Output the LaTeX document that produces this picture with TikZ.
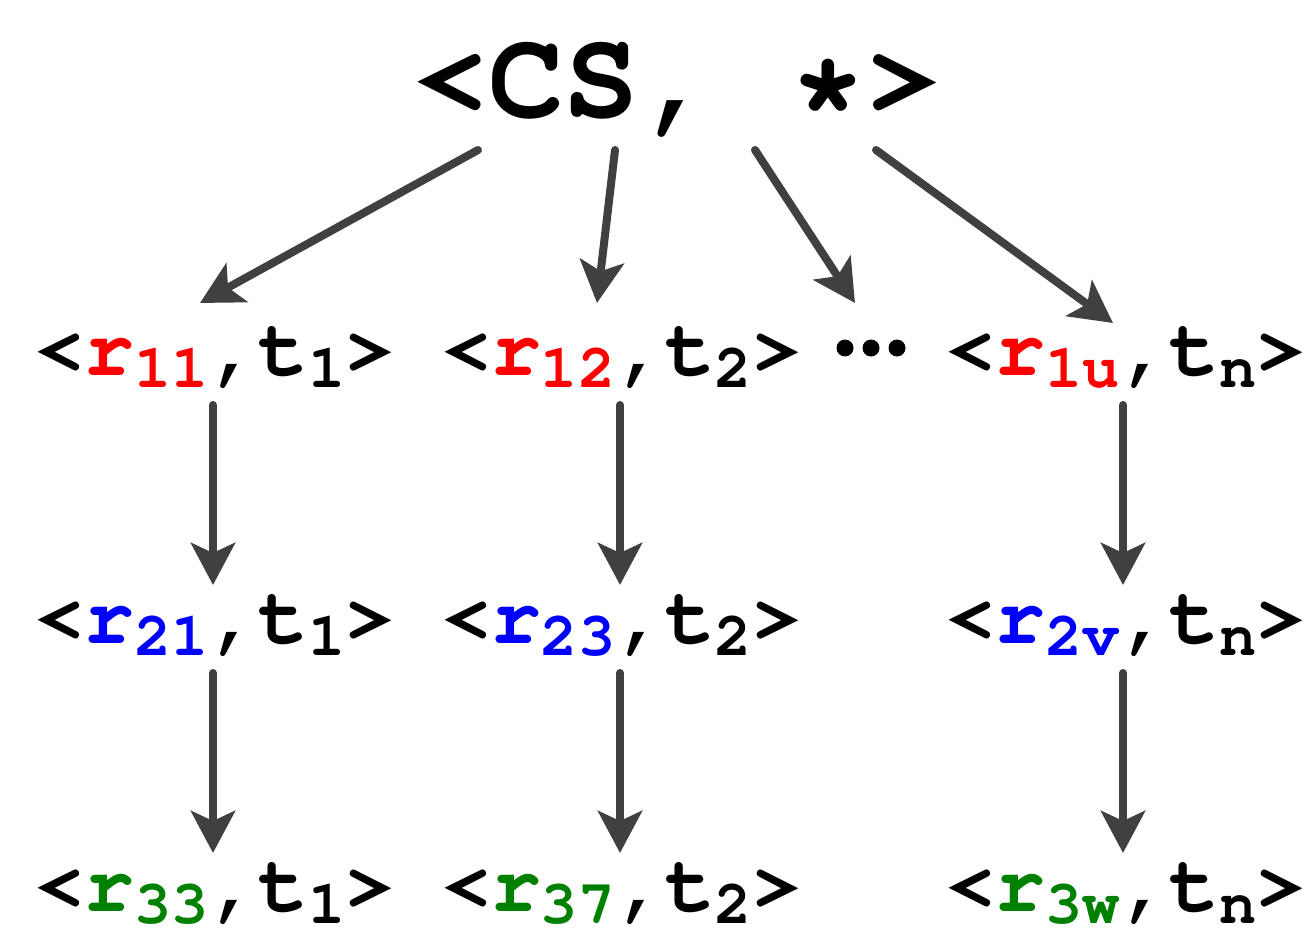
\documentclass[tikz,border=0pt]{standalone}
\usepackage[T1]{fontenc}
\usetikzlibrary{arrows.meta,calc}

\definecolor{arrowgray}{HTML}{404040}
\definecolor{rred}{HTML}{FF0000}
\definecolor{rblue}{HTML}{0000FF}
\definecolor{rgreen}{HTML}{008000}

% Courier typefaces at the sizes used in the tree
\newcommand\topfont{\fontfamily{pcr}\fontseries{b}\fontsize{126}{126}\selectfont}
\newcommand\rowfont{\fontfamily{pcr}\fontseries{b}\fontsize{83}{83}\selectfont}
\newcommand\subb[1]{\raisebox{-12pt}{\fontfamily{pcr}\fontseries{b}\fontsize{62}{62}\selectfont #1}}
% one tuple <r_x, t_y>
\newcommand\tuple[3]{{\rowfont <\textcolor{#1}{r\subb{#2}},t\subb{#3}>}}

\begin{document}
\begin{tikzpicture}[x=1pt,y=-1pt,
  label/.style={inner sep=0pt, outer sep=0pt, anchor=base},
  arr/.style={draw=arrowgray, line width=8pt, line cap=round,
    -{Stealth[length=42pt, width=44pt, inset=10pt]}}]
  \useasboundingbox (0,0) rectangle (1315,944);

  % root
  \node[label] (cs) at (677,118) {\topfont <CS, *>};

  % first level
  \node[label] (a1) at (215,375) {\tuple{rred}{11}{1}};
  \node[label] (a2) at (621.5,375) {\tuple{rred}{12}{2}};
  \node[label] (a3) at (1126,375) {\tuple{rred}{1u}{n}};
  \coordinate (dots) at (871,348);
  \foreach \dx in {-26,0,26} \fill ($(dots)+(\dx,0)$) circle (8.5);

  % second level
  \node[label] (b1) at (215,643) {\tuple{rblue}{21}{1}};
  \node[label] (b2) at (621.5,643) {\tuple{rblue}{23}{2}};
  \node[label] (b3) at (1126,643) {\tuple{rblue}{2v}{n}};

  % third level
  \node[label] (c1) at (215,911) {\tuple{rgreen}{33}{1}};
  \node[label] (c2) at (621.5,911) {\tuple{rgreen}{37}{2}};
  \node[label] (c3) at (1126,911) {\tuple{rgreen}{3w}{n}};

  % root to first level
  \draw[arr] ($(cs.base)+(-199,32)$) -- ($(a1.base)+(-15,-72)$);
  \draw[arr] ($(cs.base)+(-62,32)$) -- ($(a2.base)+(-24.5,-72)$);
  \draw[arr] ($(cs.base)+(78,32)$) -- ($(dots)+(-16,-45)$);
  \draw[arr] ($(cs.base)+(199,32)$) -- ($(a3.base)+(-13,-52)$);

  % chains down each column
  \draw[arr] ($(a1.base)+(-2,30)$) -- ($(b1.base)+(-2,-58)$);
  \draw[arr] ($(b1.base)+(-2,30)$) -- ($(c1.base)+(-2,-58)$);
  \draw[arr] ($(a2.base)+(-1.5,30)$) -- ($(b2.base)+(-1.5,-58)$);
  \draw[arr] ($(b2.base)+(-1.5,30)$) -- ($(c2.base)+(-1.5,-58)$);
  \draw[arr] ($(a3.base)+(-3,30)$) -- ($(b3.base)+(-3,-58)$);
  \draw[arr] ($(b3.base)+(-3,30)$) -- ($(c3.base)+(-3,-58)$);
\end{tikzpicture}
\end{document}
